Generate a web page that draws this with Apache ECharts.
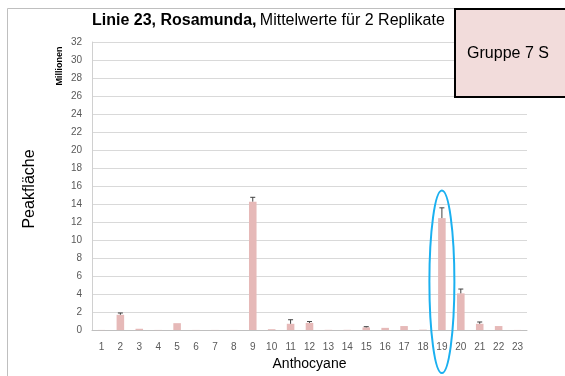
<!DOCTYPE html>
<html><head><meta charset="utf-8">
<script src="https://cdn.jsdelivr.net/npm/echarts@6/dist/echarts.min.js"></script>
<style>html,body{margin:0;padding:0;background:#fff}#c{width:565px;height:376px}</style>
</head><body><div id="c"></div>
<script>
const categories = ['1','2','3','4','5','6','7','8','9','10','11','12','13','14','15','16','17','18','19','20','21','22','23'];
const means = [0.02,1.7,0.15,0.02,0.77,0.02,0.02,0.02,14.27,0.1,0.7,0.8,0.03,0.03,0.3,0.25,0.45,0.05,12.44,4.08,0.7,0.45,0.02];
const errors = [0,0.2,0.05,0,0.05,0,0,0,0.48,0.03,0.45,0.15,0,0,0.08,0.05,0.05,0.02,1.14,0.48,0.2,0.05,0];
const yTicks = {min:0,max:32,interval:2};
const highlightIndex = 18;

const chart = echarts.init(document.getElementById('c'));
const errData = means.map((m,i)=>[i,m,m+errors[i]]);
chart.setOption({
  animation:false,
  graphic:[
    {type:'polyline',z:100,shape:{points:[[7.5,376],[7.5,8.5],[454,8.5]]},style:{stroke:'#bfbfbf',lineWidth:1,fill:null}},
    {type:'text',z:100,left:92,top:13,style:{rich:{b:{fontWeight:'bold',fontSize:16,fontFamily:'Liberation Sans',fill:'#000'},n:{fontSize:16,fontFamily:'Liberation Sans',fill:'#000'}},text:'{b|Linie 23, Rosamunda,} {n|Mittelwerte für 2 Replikate}'}},
    {type:'rect',z:100,shape:{x:455,y:9,width:115,height:88},style:{fill:'#f2dcdb',stroke:'#000',lineWidth:2}},
    {type:'text',z:101,x:508,y:54,style:{text:'Gruppe 7 S',fontSize:16,fontFamily:'Liberation Sans',fill:'#000',align:'center',verticalAlign:'middle'}},
    {type:'text',z:100,x:30,y:189,rotation:Math.PI/2,style:{text:'Peakfläche',fontSize:16,fontFamily:'Liberation Sans',fill:'#000',align:'center',verticalAlign:'middle'}},
    {type:'text',z:100,x:60,y:66,rotation:Math.PI/2,style:{text:'Millionen',fontSize:9,fontWeight:'bold',fontFamily:'Liberation Sans',fill:'#000',align:'center',verticalAlign:'middle'}}
  ],
  grid:{left:92,right:38,top:42,bottom:44},
  xAxis:{type:'category',data:categories,
    name:'Anthocyane',nameLocation:'middle',nameGap:25,
    nameTextStyle:{fontSize:14,fontFamily:'Liberation Sans',color:'#000'},
    axisLine:{lineStyle:{color:'#bfbfbf'}},axisTick:{show:false},
    axisLabel:{color:'#595959',fontSize:10,fontFamily:'Liberation Sans',margin:12}},
  yAxis:{type:'value',min:yTicks.min,max:yTicks.max,interval:yTicks.interval,
    axisLine:{show:true,lineStyle:{color:'#d0d0d0'}},axisTick:{show:false},
    splitLine:{lineStyle:{color:'#d9d9d9',width:1}},
    axisLabel:{color:'#595959',fontSize:10,fontFamily:'Liberation Sans',margin:10}},
  series:[
    {type:'bar',data:means,barWidth:'40%',itemStyle:{color:'#e6b9b8'}},
    {type:'custom',data:errData,z:5,renderItem:function(params,api){
      const i=api.value(0);
      const top=api.coord([i,api.value(2)]);
      const bot=api.coord([i,api.value(1)]);
      if(Math.abs(bot[1]-top[1])<0.5) return null;
      return {type:'group',children:[
        {type:'line',shape:{x1:top[0],y1:top[1],x2:bot[0],y2:bot[1]},style:{stroke:'#404040',lineWidth:1}},
        {type:'line',shape:{x1:top[0]-2.5,y1:top[1],x2:top[0]+2.5,y2:top[1]},style:{stroke:'#404040',lineWidth:1}}
      ]};
    }},
    {type:'custom',data:[[highlightIndex,0]],z:10,clip:false,renderItem:function(params,api){
      const c=api.coord([api.value(0),15.5]);
      const b=api.coord([api.value(0),0]);
      const ry=(b[1]+43-c[1])/2;
      return {type:'ellipse',shape:{cx:c[0],cy:c[1]+ry,rx:12.5,ry:ry},style:{fill:null,stroke:'#1ab0f0',lineWidth:2}};
    }}
  ]
});
</script></body></html>
